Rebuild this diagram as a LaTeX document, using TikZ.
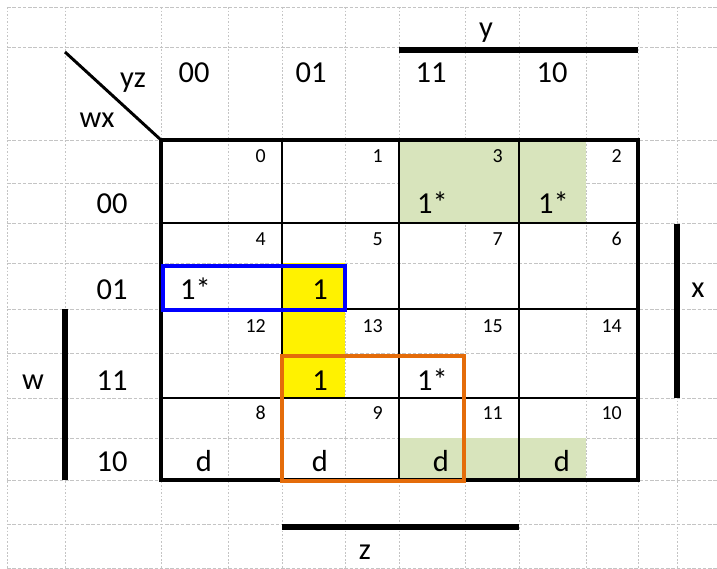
\documentclass[tikz,border=0pt]{standalone}
\usepackage{fontspec}
\setmainfont{Carlito}
\usepackage{tikz}
\definecolor{kgreen}{HTML}{D8E4BC}
\definecolor{korange}{HTML}{E46C0A}
\definecolor{kgrid}{HTML}{C4C4C4}
\tikzset{
  gridh/.style={draw=kgrid, line width=0.75pt, dash pattern=on 3pt off 1.5pt},
  gridv/.style={draw=kgrid, line width=0.75pt, dash pattern=on 1.5pt off 1.5pt},
  mapframe/.style={line width=3.4pt},
  mapline/.style={line width=1.7pt},
  bar/.style={line width=4.6pt},
  loopbox/.style={line width=3.4pt},
  head/.style={anchor=base, inner sep=0pt, font=\fontsize{26}{28}\selectfont},
  value/.style={anchor=base east, inner sep=0pt, font=\fontsize{26}{28}\selectfont},
  cellno/.style={anchor=base east, inner sep=0pt, font=\fontsize{17}{19}\selectfont}
}
\begin{document}
\begin{tikzpicture}[x=0.03cm, y=-0.03cm]
  \useasboundingbox (0,0) rectangle (717,569);

  % sheet grid
  \foreach \gx in {7,65,161,228,282,345,399,465,519,586,638,677}
    \draw[gridv] (\gx,7) -- (\gx,568);
  \foreach \gy in {7,47,140,183,223,263,309,353,398,438,480,524,568}
    \draw[gridh] (7,\gy) -- (717,\gy);

  % shaded cells
  \fill[kgreen] (399,140) rectangle (586,223);
  \fill[kgreen] (399,438) rectangle (586,480);
  \fill[yellow] (282,263) rectangle (345,398);

  % map
  \foreach \mx in {282,399,519}
    \draw[mapline] (\mx,140) -- (\mx,480);
  \foreach \my in {223,309,398}
    \draw[mapline] (161,\my) -- (638,\my);
  \draw[mapframe] (161,140) rectangle (638,480);
  \draw[line width=2.5pt] (65,52) -- (161,140);

  % variable bars
  \draw[bar] (399,50) -- (638,50);
  \draw[bar] (677,224) -- (677,398);
  \draw[bar] (65,309) -- (65,480);
  \draw[bar] (282,527) -- (519,527);

  % groups
  \draw[loopbox, blue] (163,266) rectangle (345,310);
  \draw[loopbox, korange] (282,356) rectangle (464,481);

  % headings
  \node (yz) [head] at (133,88) {yz};
  \node (wx) [head] at (97,128) {wx};
  \node (c00) [head] at (194,83) {00};
  \node (c01) [head] at (311,83) {01};
  \node (c11) [head] at (431,83) {11};
  \node (c10) [head] at (552,83) {10};
  \node (r00) [head] at (112,214) {00};
  \node (r01) [head] at (112,300) {01};
  \node (r11) [head] at (112,391) {11};
  \node (r10) [head] at (112,472) {10};
  \node (vy) [head] at (486,38) {y};
  \node (vx) [head] at (698,298) {x};
  \node (vw) [head] at (33,390) {w};
  \node (vz) [head] at (365,560) {z};

  % minterm numbers
  \foreach \n/\px/\py in {0/266/163, 1/383/163, 3/503/163, 2/622/163,
      4/266/246, 5/383/246, 7/503/246, 6/622/246,
      12/266/333, 13/383/333, 15/503/333, 14/622/333,
      8/266/420, 9/383/420, 11/503/420, 10/622/420}
    \node (n\n) [cellno] at (\px,\py) {\n};

  % entries
  \node (v3) [value] at (448,214) {1*};
  \node (v2) [value] at (569,214) {1*};
  \node (v4) [value] at (211,300) {1*};
  \node (v5) [value] at (328,300) {1};
  \node (v13) [value] at (328,391) {1};
  \node (v15) [value] at (448,391) {1*};
  \node (v8) [value] at (212,472) {d};
  \node (v9) [value] at (328,472) {d};
  \node (v11) [value] at (449,472) {d};
  \node (v10) [value] at (570,472) {d};
\end{tikzpicture}
\end{document}
